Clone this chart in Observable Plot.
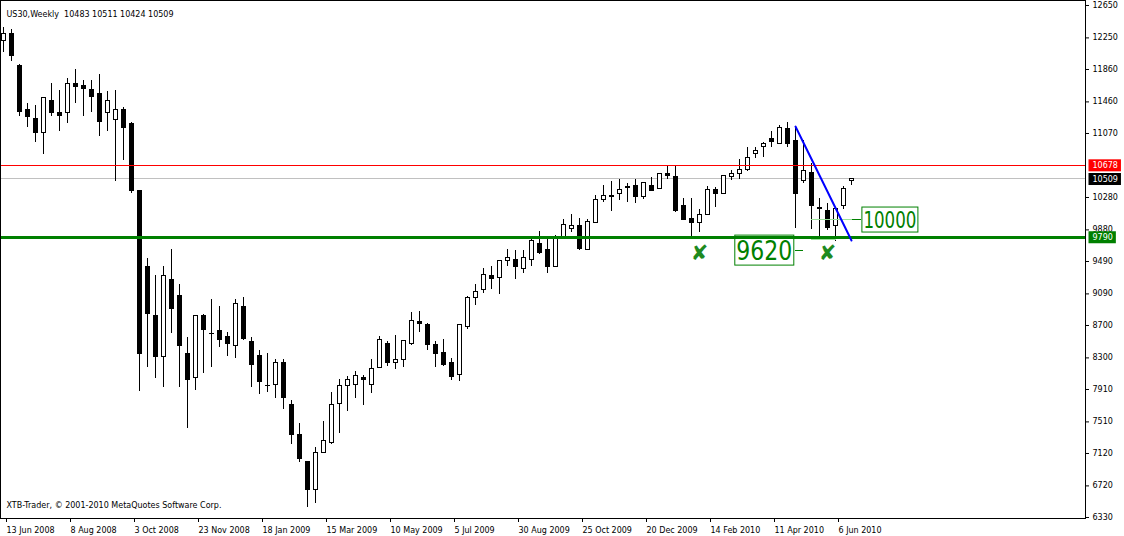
<!DOCTYPE html>
<html><head><meta charset="utf-8">
<script src="https://cdn.jsdelivr.net/npm/d3@7"></script>
<script src="https://cdn.jsdelivr.net/npm/@observablehq/plot@0.6"></script>
<style>
html,body{margin:0;padding:0;background:#fff;}
#chart{width:1124px;height:536px;overflow:hidden;}
svg text{white-space:pre;}
</style></head><body><div id="chart"></div>
<script>
// Weekly US30 candles (index 0 = week of 13 Jun 2008)
const open  = [12217,12304,11897,11366,11255,11082,11477,11329,11317,11687,11662,11613,11563,11317,11242,11366,11193,10354,9416,8823,8305,9267,9058,8342,8058,8823,8601,8626,8564,8453,8934,8502,8329,7951,7971,8243,7724,7354,7009,6675,7120,7255,7737,7959,7971,8058,7971,8181,8477,8231,8268,8477,8749,8712,8465,8366,8231,8095,8687,9045,9132,9317,9292,9490,9514,9403,9514,9712,9638,9416,9798,9897,9934,9638,9971,10255,10304,10329,10415,10428,10280,10428,10391,10564,10539,10181,10020,9959,10070,10378,10329,10539,10564,10625,10823,10909,10996,10946,11131,10983,10489,10588,10156,10119,9922,10169,10483];
const high  = [12378,12353,11921,11440,11415,11514,11687,11600,11749,11860,11724,11724,11798,11588,11600,11391,11205,10354,9527,9317,9428,9638,9206,8552,8823,8830,9021,8934,8613,9021,9045,8552,8391,8354,8280,8280,7774,7490,7021,7194,7515,7873,8033,8070,8132,8082,8280,8564,8502,8576,8514,8860,8872,8724,8502,8527,8292,8700,9058,9206,9403,9428,9502,9638,9625,9625,9786,9860,9774,9811,10008,10070,10020,10008,10304,10428,10477,10502,10452,10502,10465,10527,10576,10675,10675,10267,10267,10132,10415,10403,10551,10613,10749,10897,10897,10959,11094,11168,11205,11156,10983,10699,10267,10206,10144,10415,10511];
const low   = [12069,11958,11279,11144,10959,10810,11279,11094,11193,11440,11279,11329,11033,11094,10477,10736,10329,7885,8181,8045,7934,8601,7934,7428,7897,8107,8181,8428,8317,8292,8514,7934,7848,7873,7798,7663,7231,7009,6453,6502,7115,7231,7366,7638,7798,7712,7860,8181,8194,8157,8181,8453,8613,8391,8181,8194,8021,8008,8650,8947,9095,9144,9082,9428,9267,9342,9428,9576,9342,9416,9761,9848,9625,9625,9959,10218,10107,10243,10218,10206,10255,10366,10391,10502,10095,9996,9786,9848,10070,10156,10329,10489,10502,10601,10761,10773,10897,10934,10897,9897,10452,9885,9761,9872,9737,10132,10424];
const close = [12304,12032,11341,11279,11082,11502,11317,11292,11687,11650,11625,11526,11218,11465,11366,11144,10354,8354,8848,8305,9317,8909,8453,8033,8811,8650,8597,8527,8477,8971,8539,8218,8008,7947,8243,7811,7354,7046,6675,7120,7268,7724,7959,8033,8082,8021,8157,8527,8243,8268,8514,8761,8724,8465,8354,8218,8070,8700,9045,9119,9329,9280,9490,9539,9416,9539,9749,9601,9416,9798,9946,9934,9650,9983,10243,10304,10292,10378,10403,10280,10465,10366,10564,10551,10119,10008,9971,10070,10378,10317,10551,10564,10625,10773,10860,10946,10959,11144,10946,10317,10601,10169,10132,9909,10144,10391,10509];

const xTickIdx    = [0,8,16,24,32,40,48,56,64,72,80,88,96,104];
const xTickLabels = ["13 Jun 2008","8 Aug 2008","3 Oct 2008","23 Nov 2008","18 Jan 2009","15 Mar 2009","10 May 2009","5 Jul 2009","30 Aug 2009","25 Oct 2009","20 Dec 2009","14 Feb 2010","11 Apr 2010","6 Jun 2010"];
const yTicks = [12650,12250,11860,11460,11070,10280,9880,9490,9090,8700,8300,7910,7510,7120,6720,6330];

const titleText   = "US30,Weekly  10483 10511 10424 10509";
const captionText = "XTB-Trader, \u00a9 2001-2010 MetaQuotes Software Corp.";

const redLevel = 10678, bidLevel = 10509, supportLevel = 9790;
const priceTags = [{price: 10678, color: "#ff0000"}, {price: 10509, color: "#000000"}, {price: 9790, color: "#008000"}];
const trendLine = [{i: 99, price: 11156}, {i: 106, price: 9749}];
const crossMarks = [{i: 87, price: 9589}, {i: 103, price: 9589}];
const bigLabels = [{i: 95.1, price: 9620, label: "9620"}];
const midLabels = [{i: 110.8, price: 10000, label: "10000"}];
const labelDashes = [{i1: 99, i2: 100, price: 9626}, {i1: 106.1, i2: 107.3, price: 10005}];
const faintLines = [{i1: 101, i2: 106.1, price: 10005}, {i1: 101, i2: 104.1, price: 9762}];

const candles = open.map((o, i) => ({i, open: o, high: high[i], low: low[i], close: close[i]}));

const chart = Plot.plot({
  width: 1124, height: 536,
  marginTop: 0, marginLeft: 0, marginRight: 39, marginBottom: 18,
  style: {fontFamily: "DejaVu Sans", fontSize: "8px", background: "#fff", color: "#000", overflow: "visible"},
  x: {type: "linear", domain: [-0.375, 135.25]},
  y: {type: "linear", domain: [6317.5, 12711.7]},
  marks: [
    Plot.ruleY([bidLevel], {stroke: "#c0c0c0", shapeRendering: "crispEdges"}),
    Plot.ruleX(candles, {x: "i", y1: "low", y2: "high", stroke: "#000", shapeRendering: "crispEdges"}),
    Plot.rect(candles, {x1: d => d.i - 0.25, x2: d => d.i + 0.25, y1: "open", y2: "close",
      fill: d => d.close >= d.open ? "#fff" : "#000", stroke: "#000", shapeRendering: "crispEdges"}),
    Plot.ruleY([redLevel], {stroke: "#ff0000", shapeRendering: "crispEdges"}),
    Plot.ruleY([supportLevel], {stroke: "#008000", strokeWidth: 3, shapeRendering: "crispEdges"}),
    Plot.ruleY(faintLines, {y: "price", x1: "i1", x2: "i2", stroke: "#9be39b", shapeRendering: "crispEdges"}),
    Plot.ruleY(labelDashes, {y: "price", x1: "i1", x2: "i2", stroke: "#008000", shapeRendering: "crispEdges"}),
    Plot.line(trendLine, {x: "i", y: "price", stroke: "#0000ff", strokeWidth: 2}),
    Plot.text(crossMarks, {x: "i", y: "price", text: () => "\u2718", fill: "#1f8a1f", fontSize: 21}),
    Plot.text(bigLabels, {x: "i", y: "price", text: "label", fill: "#008000", fontSize: 27}),
    Plot.text(midLabels, {x: "i", y: "price", text: "label", fill: "#008000", fontSize: 23}),
    Plot.frame({stroke: "#000", shapeRendering: "crispEdges"}),
    Plot.axisY(yTicks, {anchor: "right", tickSize: 3, tickPadding: 4, tickFormat: d => String(d), label: null}),
    Plot.axisX(xTickIdx, {anchor: "bottom", tickSize: 4, tickPadding: 4.5, tickFormat: d => xTickLabels[xTickIdx.indexOf(d)], textAnchor: "start", dx: 3, label: null}),
    Plot.text(priceTags, {y: "price", text: d => String(d.price), frameAnchor: "right", dx: 7, textAnchor: "start", fill: "#fff"}),
    Plot.text([titleText], {frameAnchor: "top-left", dx: 6, dy: 11, textAnchor: "start", fill: "#000"}),
    Plot.text([captionText], {frameAnchor: "bottom-left", dx: 6, dy: -11, textAnchor: "start", fill: "#000"})
  ]
});
document.getElementById("chart").appendChild(chart);

function fillOf(el) {
  let n = el;
  while (n && n !== chart) {
    const f = n.getAttribute && n.getAttribute("fill");
    if (f) return f;
    n = n.parentNode;
  }
  return null;
}
const NS = "http://www.w3.org/2000/svg";
const tagColor = new Map(priceTags.map(t => [String(t.price), t.color]));
const boxed = {"9620": 56, "10000": 53};
const texts = Array.from(chart.querySelectorAll("text"));
for (const el of texts) {
  const t = el.textContent;
  const f = fillOf(el);
  const tf = el.getAttribute("transform");
  if (f === "#fff" && tagColor.has(t)) {
    const b = el.getBBox();
    const cy = b.y + b.height / 2;
    const r = document.createElementNS(NS, "rect");
    if (tf) r.setAttribute("transform", tf);
    r.setAttribute("x", b.x - 4); r.setAttribute("width", b.width + 7);
    r.setAttribute("y", cy - 6); r.setAttribute("height", 12);
    r.setAttribute("fill", tagColor.get(t));
    el.parentNode.insertBefore(r, el);
  } else if (f === "#008000" && boxed[t]) {
    el.setAttribute("textLength", boxed[t]);
    el.setAttribute("lengthAdjust", "spacingAndGlyphs");
    const b = el.getBBox();
    const r = document.createElementNS(NS, "rect");
    if (tf) r.setAttribute("transform", tf);
    r.setAttribute("x", b.x - 1.5); r.setAttribute("width", b.width + 3);
    r.setAttribute("y", b.y + 0.5); r.setAttribute("height", b.height - 1);
    r.setAttribute("fill", "none"); r.setAttribute("stroke", "#008000");
    el.parentNode.insertBefore(r, el);
  }
}
</script></body></html>
